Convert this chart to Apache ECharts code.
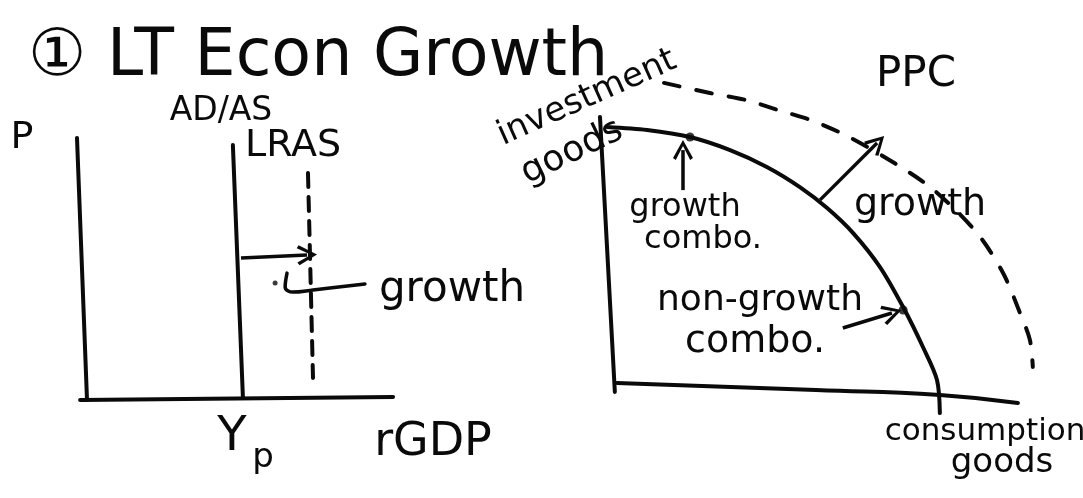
<!DOCTYPE html>
<html>
<head>
<meta charset="utf-8">
<title>LT Econ Growth</title>
<script src="https://cdn.jsdelivr.net/npm/echarts@6/dist/echarts.min.js"></script>
<style>
    html, body { margin: 0; padding: 0; background: #fff; }
    #chart { width: 1083px; height: 498px; }
</style>
</head>
<body>
<div id="chart"></div>
<script>
// 左图 AD/AS，坐标 0-100
var adasAxisV = [[-1.6, 100.8], [1.6, 0]];
var adasAxisH = [[-0.6, 0], [99.4, 1.2]];
var lras = [[48.2, 98.1], [51.4, 1.2]];
var lrasNew = [[72.2, 87.3], [73.8, 8.5]];
var shiftArrow = [[50.8, 54.6], [71.9, 55.8]];
var growthLeader = [[65.5, 48.8], [64.9, 43.5], [67.4, 41.5], [73.8, 42.3], [90.4, 44.6]];
var leaderDot = [[61.7, 45]];

// 右图 PPC，坐标 0-100
var ppcAxisV = [[-1.7, 100.4], [1.9, -0.7]];
var ppcAxisH = [[2.4, 2.6], [50.6, 0], [80.6, -1.8], [99.5, -4.8]];
var ppc = [[0, 96.7], [9.7, 95.6], [20.1, 93.0], [29.8, 88.2], [38.7, 82.0], [46.7, 74.6],
    [53.3, 66.9], [59.6, 57.7], [66.1, 45.2], [71.7, 30.5], [76.5, 15.8], [79.9, 3.7], [80.6, -8.5]];
var ppcNew = [[13.8, 112.9], [24.9, 109.2], [33.7, 106.6], [42.1, 102.6], [49.2, 99.3], [58.1, 93.4],
    [70.7, 82.4], [79.4, 73.2], [89.6, 57.7], [95.9, 43.0], [100, 28.3], [102.4, 18.4], [103.1, 8.5]];
var growthArrow = [[51.6, 69.9], [65.4, 90.8]];
var comboArrowUp = [[18.4, 73.5], [18.4, 88.2]];
var comboArrowSide = [[57.1, 22.8], [69, 28.3]];
var comboPoints = [[20.1, 93.0], [71.7, 29.4]];

var INK = '#0a0a0a';
var FONT = 'DejaVu Sans';
var CHEVRON = 'path://M0,9 L5,0 L10,9 L8.6,10 L5,3 L1.4,10 Z';

function stroke(data, idx, opts) {
    opts = opts || {};
    return {
        type: 'line',
        xAxisIndex: idx, yAxisIndex: idx,
        data: data,
        smooth: opts.smooth || false,
        symbol: 'none',
        clip: false,
        silent: true,
        lineStyle: { color: INK, width: opts.width || 4, type: opts.dash || 'solid', cap: 'round', join: 'round' }
    };
}

function arrow(data, idx) {
    return {
        type: 'lines',
        coordinateSystem: 'cartesian2d',
        xAxisIndex: idx, yAxisIndex: idx,
        symbol: ['none', CHEVRON],
        symbolSize: [26, 20],
        clip: false,
        silent: true,
        lineStyle: { color: INK, width: 3.5, curveness: 0, opacity: 1 },
        data: [{ coords: data }]
    };
}

function dots(data, idx, size) {
    return {
        type: 'scatter',
        xAxisIndex: idx, yAxisIndex: idx,
        data: data,
        symbolSize: size,
        clip: false,
        silent: true,
        itemStyle: { color: INK }
    };
}

function label(text, x, y, size, opts) {
    opts = opts || {};
    return {
        type: 'text',
        x: x, y: y,
        rotation: opts.rotation || 0,
        style: {
            text: text, x: 0, y: 0,
            fill: INK,
            fontFamily: FONT,
            fontSize: size,
            textAlign: opts.align || 'center',
            textVerticalAlign: 'middle'
        }
    };
}

// 坐标轴留出余量，避免手绘线条被网格裁掉
var chart = echarts.init(document.getElementById('chart'));
chart.setOption({
    animation: false,
    backgroundColor: '#fff',
    grid: [
        { left: 66.35, top: 127, width: 328.65, height: 286 },
        { left: 586.35, top: 63.6, width: 474.95, height: 353.6 }
    ],
    xAxis: [
        { gridIndex: 0, type: 'value', min: -5, max: 100, show: false },
        { gridIndex: 1, type: 'value', min: -5, max: 110, show: false }
    ],
    yAxis: [
        { gridIndex: 0, type: 'value', min: -5, max: 105, show: false },
        { gridIndex: 1, type: 'value', min: -10, max: 120, show: false }
    ],
    series: [
        stroke(adasAxisV, 0),
        stroke(adasAxisH, 0),
        stroke(lras, 0),
        stroke(lrasNew, 0, { dash: [14, 10] }),
        arrow(shiftArrow, 0),
        stroke(growthLeader, 0, { smooth: 0.4, width: 3.5 }),
        dots(leaderDot, 0, 5),

        stroke(ppcAxisV, 1),
        stroke(ppcAxisH, 1, { smooth: true }),
        stroke(ppc, 1, { smooth: 0.3 }),
        stroke(ppcNew, 1, { smooth: 0.3, dash: [16, 17] }),
        arrow(growthArrow, 1),
        arrow(comboArrowUp, 1),
        arrow(comboArrowSide, 1),
        dots(comboPoints, 1, 9)
    ],
    graphic: [
        label('\u2460 LT Econ Growth', 28, 58, 65, { align: 'left' }),
        label('P', 22, 138, 38),
        label('AD/AS', 221, 111, 33),
        label('LRAS', 245, 146, 38, { align: 'left' }),
        label('growth', 452, 290, 42),
        label('Y', 232, 438, 48),
        label('p', 263, 458, 34),
        label('rGDP', 433, 443, 46),

        label('investment', 587, 98, 34, { rotation: 0.42 }),
        label('goods', 572, 152, 36, { rotation: 0.45 }),
        label('PPC', 916, 75, 42),
        label('growth', 685, 208, 32),
        label('combo.', 703, 240, 32),
        label('growth', 920, 205, 38),
        label('non-growth', 760, 301, 36),
        label('combo.', 755, 342, 38),
        label('consumption', 985, 432, 31),
        label('goods', 1002, 463, 34)
    ]
});
</script>
</body>
</html>
